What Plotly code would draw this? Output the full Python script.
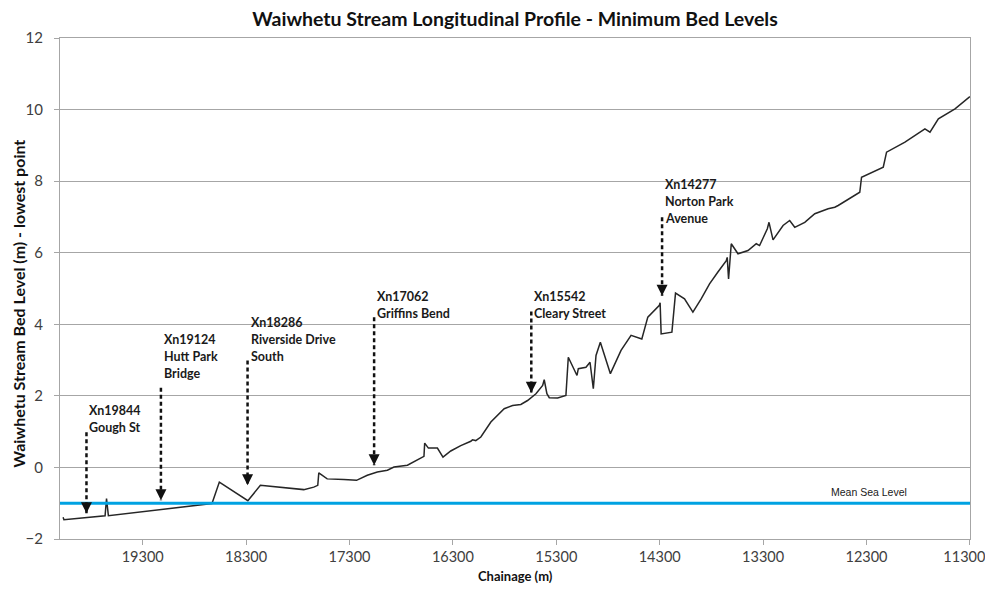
import plotly.graph_objects as go

# ---- data ----
chainage = [20070, 20062, 19664, 19650, 19632, 18630, 18559, 18283, 18162, 17742,
            17646, 17607, 17597, 17516, 17355, 17232, 17128, 17031, 16934, 16870,
            16740, 16580, 16573, 16537, 16450, 16396, 16321, 16224, 16127, 16111,
            16079, 16030, 15933, 15804, 15723, 15643, 15578, 15497, 15432, 15417,
            15391, 15368, 15287, 15207, 15184, 15100, 15087, 15013, 14974, 14942,
            14916, 14874, 14777, 14674, 14577, 14473, 14415, 14303, 14296, 14286,
            14182, 14147, 14060, 13979, 13899, 13818, 13737, 13656, 13647, 13634,
            13608, 13543, 13446, 13366, 13334, 13259, 13243, 13204, 13107, 13043,
            12994, 12897, 12800, 12671, 12607, 12574, 12365, 12348, 12138, 12106,
            11928, 11735, 11686, 11605, 11444, 11300]
bed_level = [-1.39, -1.46, -1.35, -0.87, -1.35, -1.01, -0.41, -0.93, -0.50, -0.62,
             -0.55, -0.50, -0.15, -0.32, -0.34, -0.36, -0.22, -0.13, -0.08, 0.01,
             0.06, 0.31, 0.68, 0.54, 0.54, 0.29, 0.46, 0.61, 0.73, 0.77,
             0.75, 0.85, 1.27, 1.64, 1.73, 1.76, 1.87, 2.06, 2.29, 2.45,
             2.06, 1.95, 1.94, 2.01, 3.08, 2.57, 2.76, 2.80, 2.94, 2.20,
             3.13, 3.50, 2.62, 3.27, 3.69, 3.59, 4.20, 4.53, 4.60, 3.73,
             3.78, 4.87, 4.71, 4.34, 4.71, 5.13, 5.46, 5.78, 5.87, 5.27,
             6.25, 5.97, 6.06, 6.25, 6.20, 6.67, 6.85, 6.36, 6.76, 6.90,
             6.71, 6.85, 7.09, 7.23, 7.27, 7.32, 7.69, 8.11, 8.39, 8.81,
             9.09, 9.46, 9.37, 9.74, 10.02, 10.36]

mean_sea_level = -1.0
x_range = [20100, 11299]
x_ticks = [19300, 18300, 17300, 16300, 15300, 14300, 13300, 12300, 11300]
y_ticks = [-2, 0, 2, 4, 6, 8, 10, 12]

marker_chainage = [19844, 19124, 18286, 17062, 15542, 14277]
marker_lines = [["Xn19844", "Gough St"],
                ["Xn19124", "Hutt Park", "Bridge"],
                ["Xn18286", "Riverside Drive", "South"],
                ["Xn17062", "Griffins Bend"],
                ["Xn15542", "Cleary Street"],
                ["Xn14277", "Norton Park", "Avenue"]]
arrow_tail = [0.98, 2.23, 2.99, 4.20, 4.36, 6.99]
arrow_head = [-1.28, -0.92, -0.50, 0.06, 2.09, 4.80]
label_top = [1.86, 3.84, 4.32, 5.04, 5.04, 8.17]
msl_label_x = 12280

FONT = "Lato"

# last tick label padded on its right so it stays inside the page edge
x_ticktext = [str(v) for v in x_ticks[:-1]] + [str(x_ticks[-1]) + "\u00a0\u00a0\u00a0"]

fig = go.Figure()

fig.add_trace(go.Scatter(x=chainage, y=bed_level, mode="lines",
                         line=dict(color="#262626", width=1.5),
                         showlegend=False, hoverinfo="skip"))

fig.add_trace(go.Scatter(x=x_range, y=[mean_sea_level, mean_sea_level], mode="lines",
                         line=dict(color="#00a2e2", width=3),
                         showlegend=False, hoverinfo="skip"))

annotations = []
for cx, tail, head, top, lines in zip(marker_chainage, arrow_tail, arrow_head, label_top, marker_lines):
    fig.add_trace(go.Scatter(x=[cx, cx], y=[tail, head], mode="lines",
                             line=dict(color="#111111", width=2.5, dash="4px,3px"),
                             showlegend=False, hoverinfo="skip"))
    annotations.append(dict(x=cx, y=head, xref="x", yref="y", text="", showarrow=True,
                            ax=0, ay=-9, arrowhead=2, arrowsize=1.1, arrowwidth=2,
                            arrowcolor="#111111", standoff=0))
    for i, t in enumerate(lines):
        annotations.append(dict(x=cx, y=top, xref="x", yref="y", text=t, showarrow=False,
                                xanchor="left", yanchor="top", xshift=1, yshift=-17 * i,
                                font=dict(family=FONT, size=12.5, color="#1a1a1a", weight="bold")))

annotations.append(dict(x=msl_label_x, y=mean_sea_level, xref="x", yref="y", text="Mean Sea Level",
                        showarrow=False, xanchor="center", yanchor="bottom", yshift=3,
                        font=dict(family="Liberation Sans", size=10.5, color="#1a1a1a")))

annotations.append(dict(x=-0.046, y=0.47, xref="paper", yref="paper",
                        text="Waiwhetu Stream Bed Level (m) - lowest point", textangle=-90,
                        showarrow=False, xanchor="center", yanchor="middle",
                        font=dict(family=FONT, size=16, color="#111111", weight="bold")))
annotations.append(dict(x=0.5, y=-0.073, xref="paper", yref="paper", text="Chainage (m)",
                        showarrow=False, xanchor="center", yanchor="middle",
                        font=dict(family=FONT, size=13, color="#111111", weight="bold")))

# page body has an 8px margin: figure is offset by 8px, so size and margins compensate
fig.update_layout(
    width=977, height=576,
    margin=dict(l=52, r=15, t=30, b=45, autoexpand=False),
    paper_bgcolor="white", plot_bgcolor="white",
    title=dict(text="Waiwhetu Stream Longitudinal Profile - Minimum Bed Levels",
               x=0.5, xref="paper", xanchor="center", y=0.981, yanchor="middle",
               font=dict(family=FONT, size=19.5, color="#111111", weight="bold")),
    annotations=annotations,
    xaxis=dict(range=x_range, tickvals=x_ticks, ticktext=x_ticktext,
               showgrid=False, zeroline=False, showline=True, linecolor="#a6a6a6", linewidth=1,
               mirror=True, ticks="outside", ticklen=5, tickcolor="#a6a6a6",
               ticklabeloverflow="allow", automargin=False,
               tickfont=dict(family=FONT, size=14.5, color="#404040")),
    yaxis=dict(range=[-2, 12], tickvals=y_ticks, showgrid=True, gridcolor="#a6a6a6", gridwidth=1,
               zeroline=False, showline=True, linecolor="#a6a6a6", linewidth=1, mirror=True,
               ticks="outside", ticklen=5, tickcolor="#a6a6a6", ticklabelstandoff=8,
               automargin=False,
               tickfont=dict(family=FONT, size=15, color="#404040")),
)

fig.write_html("out.html")
